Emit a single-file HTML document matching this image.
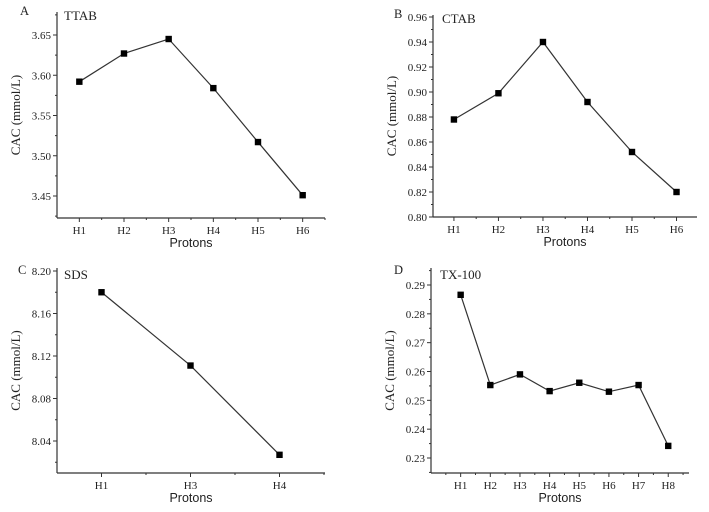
<!DOCTYPE html>
<html><head><meta charset="utf-8"><style>
html,body{margin:0;padding:0;background:#fff;}
svg text{font-family:"Liberation Serif",serif;fill:#222;}
</style></head><body>
<svg id="fig" width="709" height="507" viewBox="0 0 709 507" xmlns="http://www.w3.org/2000/svg"></svg>
<script>
const catsA=["H1","H2","H3","H4","H5","H6"];
const valsA=[3.592,3.627,3.645,3.584,3.517,3.451];
const ticksA=[3.45,3.50,3.55,3.60,3.65];
const catsB=["H1","H2","H3","H4","H5","H6"];
const valsB=[0.878,0.899,0.940,0.892,0.852,0.820];
const ticksB=[0.80,0.82,0.84,0.86,0.88,0.90,0.92,0.94,0.96];
const catsC=["H1","H3","H4"];
const valsC=[8.180,8.111,8.027];
const ticksC=[8.04,8.08,8.12,8.16,8.20];
const catsD=["H1","H2","H3","H4","H5","H6","H7","H8"];
const valsD=[0.2866,0.2553,0.2590,0.2532,0.2561,0.2530,0.2553,0.2342];
const ticksD=[0.23,0.24,0.25,0.26,0.27,0.28,0.29];

const NS="http://www.w3.org/2000/svg";
const svg=document.getElementById('fig');
function mk(tag,attrs,parent,txt){const e=document.createElementNS(NS,tag);for(const k in attrs)e.setAttribute(k,attrs[k]);if(txt!==undefined)e.textContent=txt;parent.appendChild(e);return e;}

function panel(cfg){
  const g=mk('g',{},svg);
  
  
  const xs=i=>cfg.x0+(i+1-cfg.c0)*(cfg.x1-cfg.x0)/(cfg.c1-cfg.c0);
  const ys=v=>cfg.yv0-(v-cfg.v0)*(cfg.yv0-cfg.y1)/(cfg.v1-cfg.v0);
  const ya=mk('line',{x1:cfg.x0,y1:cfg.top,x2:cfg.x0,y2:cfg.y0,stroke:'#333','stroke-width':1.2},g);
  
  const xa=mk('line',{x1:cfg.x0,y1:cfg.y0,x2:cfg.right,y2:cfg.y0,stroke:'#333','stroke-width':1.2},g);
  
  const step=cfg.yt[1]-cfg.yt[0];
  cfg.yt.forEach(v=>{
    const y=ys(v);
    mk('line',{x1:cfg.x0-4,y1:y,x2:cfg.x0,y2:y,stroke:'#333'},g);
    const m=ys(v+step/2);
    if(m>=cfg.top)mk('line',{x1:cfg.x0-2,y1:m,x2:cfg.x0,y2:m,stroke:'#333'},g);
    const t=mk('text',{x:cfg.x0-6,y:y+4,'text-anchor':'end','font-size':11},g,v.toFixed(cfg.dec));
    
  });
  const m0=ys(cfg.yt[0]-step/2);
  if(m0<=cfg.y0)mk('line',{x1:cfg.x0-2,y1:m0,x2:cfg.x0,y2:m0,stroke:'#333'},g);
  cfg.cats.forEach((c,i)=>{
    const x=xs(i);
    mk('line',{x1:x,y1:cfg.y0,x2:x,y2:cfg.y0+4,stroke:'#333'},g);
    const t=mk('text',{x:x,y:cfg.y0+16,'text-anchor':'middle','font-size':11},g,c);
    
  });
  for(let k=0;k<=cfg.cats.length;k++){
    const x=xs(k-0.5);
    if(x>cfg.x0+1&&x<=cfg.right)mk('line',{x1:x,y1:cfg.y0,x2:x,y2:cfg.y0+2,stroke:'#333'},g);
  }
  const pts=cfg.vals.map((v,i)=>xs(i)+','+ys(v)).join(' ');
  const pl=mk('polyline',{points:pts,fill:'none',stroke:'#333','stroke-width':1.2},g);
  
  cfg.vals.forEach((v,i)=>{
    const r=mk('rect',{x:xs(i)-3.2,y:ys(v)-3.2,width:6.4,height:6.4,fill:'#000'},g);
    
  });
  const xt=mk('text',{x:(cfg.x0+cfg.right)/2,y:cfg.y0+29,'text-anchor':'middle','font-size':12.5,style:'font-family:"Liberation Sans",sans-serif'},g,'Protons');
  
  const cy=(cfg.top+cfg.y0)/2, cx=cfg.x0-37;
  const yt=mk('text',{x:cx,y:cy,'text-anchor':'middle','font-size':13,transform:`rotate(-90 ${cx} ${cy})`},g,'CAC (mmol/L)');
  
  const pl2=mk('text',{x:cfg.lx,y:cfg.ly,'font-size':12.5},g,cfg.id);
  
  const nm=mk('text',{x:cfg.nx,y:cfg.ly+5,'font-size':13},g,cfg.name);
  
}

panel({id:'A',name:'TTAB',cats:catsA,vals:valsA,yt:ticksA,dec:2,x0:57,x1:325,c0:0.5,c1:6.5,right:325,top:12,y0:218,yv0:196,v0:3.45,y1:35,v1:3.65,lx:20,ly:15,nx:64});
panel({id:'B',name:'CTAB',cats:catsB,vals:valsB,yt:ticksB,dec:2,x0:433,x1:697,c0:0.53,c1:6.46,right:697,top:15,y0:217,yv0:217,v0:0.80,y1:17,v1:0.96,lx:394,ly:18,nx:442});
panel({id:'C',name:'SDS',cats:catsC,vals:valsC,yt:ticksC,dec:2,x0:57,x1:324,c0:0.5,c1:3.5,right:325,top:268,y0:473,yv0:441,v0:8.04,y1:271,v1:8.20,lx:18,ly:274,nx:64});
panel({id:'D',name:'TX-100',cats:catsD,vals:valsD,yt:ticksD,dec:2,x0:431,x1:689,c0:0,c1:8.7,right:689,top:268,y0:473,yv0:458,v0:0.23,y1:285,v1:0.29,lx:394,ly:274,nx:440});
</script>
</body></html>
